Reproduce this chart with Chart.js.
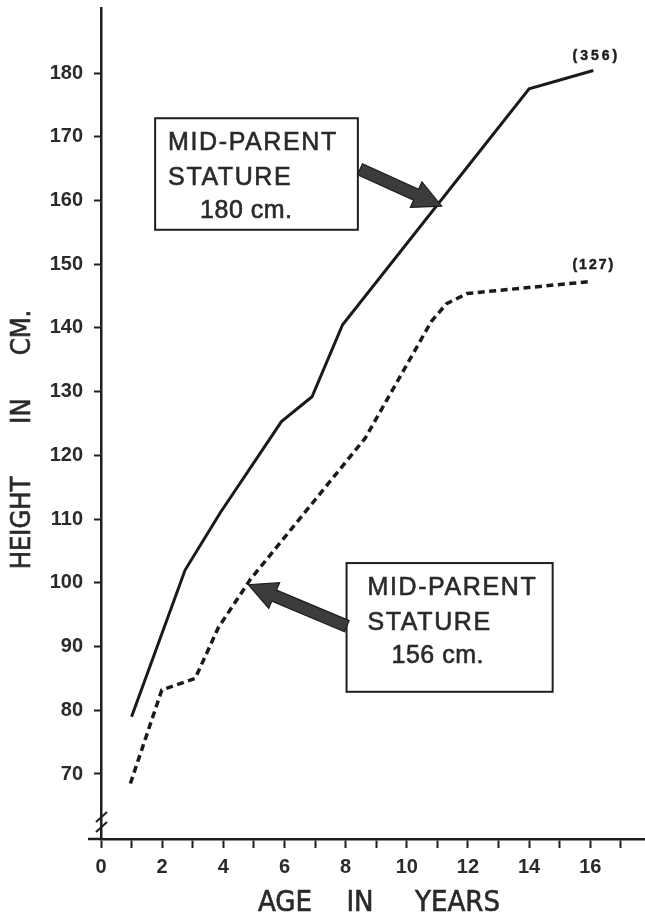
<!DOCTYPE html>
<html><head><meta charset="utf-8">
<script src="https://cdn.jsdelivr.net/npm/chart.js@4"></script>
<style>html,body{margin:0;padding:0;background:#fff}#wrap{width:645px;height:919px;position:relative;background:#fff}</style>
</head><body><div id="wrap"><canvas id="c" width="645" height="919"></canvas></div>
<script>
// ---- data ----
const solidAges    = [1, 2.75, 3.9, 5.9, 6.9, 7.9, 14, 16.1];
const solidHeights = [79, 102, 111, 125.3, 129.2, 140.5, 177.5, 180.4];
const dashedAges    = [0.96, 1.99, 3.08, 3.84, 4.88, 8.64, 10.8, 11.3, 11.97, 16.05];
const dashedHeights = [68.5, 83.2, 85, 93, 100.5, 122.7, 141, 143.8, 145.4, 147.3];
const xTicks = [0,1,2,3,4,5,6,7,8,9,10,11,12,13,14,15,16,17];
const xTickLabels = ['0','','2','','4','','6','','8','','10','','12','','14','','16',''];
const yTicks = [70,80,90,100,110,120,130,140,150,160,170,180];
const yTickLabels = ['70','80','90','100','110','120','130','140','150','160','170','180'];
const solidCount = '(356)';
const dashedCount = '(127)';
const box1Lines = ['MID-PARENT','STATURE','180 cm.'];
const box2Lines = ['MID-PARENT','STATURE','156 cm.'];
const xTitleWords = ['AGE','IN','YEARS'];
const yTitleWords = ['HEIGHT','IN','CM.'];

const INK = '#1e1e1e';
const TXT = '#2a2a2a';

function pts(xs, ys){ return xs.map((x,i)=>({x:x, y:ys[i]})); }
function noPad(s){ s.paddingTop = 0; s.paddingBottom = 0; s.paddingLeft = 0; s.paddingRight = 0; }

const annot = {
  id: 'annot',
  afterDraw(chart){
    const ctx = chart.ctx, ca = chart.chartArea;
    const xs = chart.scales.x, ys = chart.scales.y;
    const X = v => xs.getPixelForValue(v), Y = v => ys.getPixelForValue(v);
    function heavyText(t, x, y, sw){
      ctx.fillText(t, x, y);
      ctx.lineWidth = sw; ctx.strokeStyle = ctx.fillStyle; ctx.strokeText(t, x, y);
    }
    ctx.save();
    // x-axis extension to the left of the y-axis
    ctx.strokeStyle = INK; ctx.lineWidth = 2.5;
    ctx.beginPath(); ctx.moveTo(ca.left - 13, ca.bottom); ctx.lineTo(ca.left, ca.bottom); ctx.stroke();
    // axis break marks
    ctx.lineWidth = 2;
    [ -22, -12 ].forEach(o=>{
      ctx.beginPath(); ctx.moveTo(ca.left - 5, ca.bottom + o + 5); ctx.lineTo(ca.left + 6, ca.bottom + o - 5); ctx.stroke();
    });

    // boxes
    function box(x0,x1,y0,y1,lines,inset,inset3){
      const l = X(x0), r = X(x1), t = Y(y0), b = Y(y1);
      ctx.fillStyle = '#fff'; ctx.fillRect(l,t,r-l,b-t);
      ctx.strokeStyle = INK; ctx.lineWidth = 2; ctx.strokeRect(l,t,r-l,b-t);
      ctx.fillStyle = TXT; ctx.font = '25px "Liberation Sans", Arial, sans-serif';
      ctx.textAlign = 'left'; ctx.textBaseline = 'alphabetic';
      ctx.letterSpacing = '1.6px';
      heavyText(lines[0], l + inset, t + 32, 0.6);
      heavyText(lines[1], l + inset, t + 67, 0.6);
      ctx.letterSpacing = '0.5px';
      heavyText(lines[2], l + inset3, t + 100, 0.6);
      ctx.letterSpacing = '0px';
    }
    box(1.77, 8.40, 172.9, 155.4, box1Lines, 13, 45);
    box(8.03, 14.77, 103.1, 82.9, box2Lines, 21, 45);

    // fat arrows
    function arrow(xa,ya,xb,yb){
      const x0 = X(xa), y0 = Y(ya), x1 = X(xb), y1 = Y(yb);
      const dx = x1-x0, dy = y1-y0, L = Math.hypot(dx,dy);
      const ux = dx/L, uy = dy/L, nx = -uy, ny = ux;
      const hw = 6, hl = 28, hh = 14;
      const bx = x1 - ux*hl, by = y1 - uy*hl;
      ctx.beginPath();
      ctx.moveTo(x0 + nx*hw, y0 + ny*hw);
      ctx.lineTo(bx + nx*hw, by + ny*hw);
      ctx.lineTo(bx + nx*hh, by + ny*hh);
      ctx.lineTo(x1, y1);
      ctx.lineTo(bx - nx*hh, by - ny*hh);
      ctx.lineTo(bx - nx*hw, by - ny*hw);
      ctx.lineTo(x0 - nx*hw, y0 - ny*hw);
      ctx.closePath();
      ctx.fillStyle = '#3c3c3c'; ctx.fill();
      ctx.strokeStyle = '#1c1c1c'; ctx.lineWidth = 1.2; ctx.stroke();
    }
    arrow(8.47, 164.9, 11.14, 159.1);
    arrow(8.04, 93.2, 4.82, 99.7);

    // sample-size labels at line ends
    ctx.fillStyle = INK; ctx.font = 'bold 14px "Liberation Sans", Arial, sans-serif';
    ctx.textAlign = 'center'; ctx.textBaseline = 'middle';
    ctx.letterSpacing = '3px';
    const sl = solidAges.length-1, dl = dashedAges.length-1;
    heavyText(solidCount, X(solidAges[sl]) + 3, Y(solidHeights[sl]) - 14, 0.5);
    ctx.letterSpacing = '2px';
    heavyText(dashedCount, X(dashedAges[dl]) + 2, Y(dashedHeights[dl]) - 16, 0.5);
    ctx.letterSpacing = '0px';

    // axis titles
    ctx.fillStyle = TXT;
    ctx.font = '29px "DejaVu Sans Condensed", "DejaVu Sans", sans-serif';
    ctx.textAlign = 'center'; ctx.textBaseline = 'middle';
    const xPos = [285, 360, 457.5];
    xTitleWords.forEach((w,i)=> heavyText(w, xPos[i], 903, 0.6));
    ctx.font = '27px "DejaVu Sans Condensed", "DejaVu Sans", sans-serif';
    const yPos = [523, 411, 332.5];
    yTitleWords.forEach((w,i)=>{
      ctx.save(); ctx.translate(23, yPos[i]); ctx.rotate(-Math.PI/2);
      heavyText(w, 0, 0, 0.6); ctx.restore();
    });
    ctx.restore();
  }
};

new Chart(document.getElementById('c'), {
  type: 'line',
  data: {
    datasets: [
      { label: 'Mid-parent stature 180 cm', data: pts(solidAges, solidHeights),
        borderColor: '#1a1a1a', borderWidth: 3, pointRadius: 0, tension: 0, fill: false },
      { label: 'Mid-parent stature 156 cm', data: pts(dashedAges, dashedHeights),
        borderColor: '#1a1a1a', borderWidth: 3.5, borderDash: [7,4.5], pointRadius: 0, tension: 0, fill: false }
    ]
  },
  options: {
    responsive: false, animation: false, devicePixelRatio: 1,
    layout: { padding: { top: 8, left: 0, right: 0, bottom: 0 } },
    plugins: { legend: { display: false }, tooltip: { enabled: false } },
    scales: {
      x: {
        type: 'linear', min: 0, max: 17.79,
        afterBuildTicks: s => { s.ticks = xTicks.map(v=>({value:v})); },
        afterFit: s => { s.height = 80; noPad(s); },
        ticks: { autoSkip: false, maxRotation: 0, padding: 7, color: TXT,
          font: { family: '"Liberation Sans", Arial, sans-serif', size: 20, weight: 'bold' },
          callback: (v, i) => xTickLabels[i] },
        grid: { drawOnChartArea: false, drawTicks: true, tickLength: 9, tickWidth: 2, tickColor: INK },
        border: { display: true, color: INK, width: 2.5 }
      },
      y: {
        type: 'linear', min: 59.8, max: 190.2,
        afterBuildTicks: s => { s.ticks = yTicks.map(v=>({value:v})); },
        afterFit: s => { s.width = 101; noPad(s); },
        ticks: { autoSkip: false, padding: 11, color: TXT,
          font: { family: '"Liberation Sans", Arial, sans-serif', size: 20, weight: 'bold' },
          callback: (v, i) => yTickLabels[i] },
        grid: { drawOnChartArea: false, drawTicks: true, tickLength: 7, tickWidth: 2, tickColor: INK },
        border: { display: true, color: INK, width: 2.5 }
      }
    }
  },
  plugins: [annot]
});
</script>
</body></html>
